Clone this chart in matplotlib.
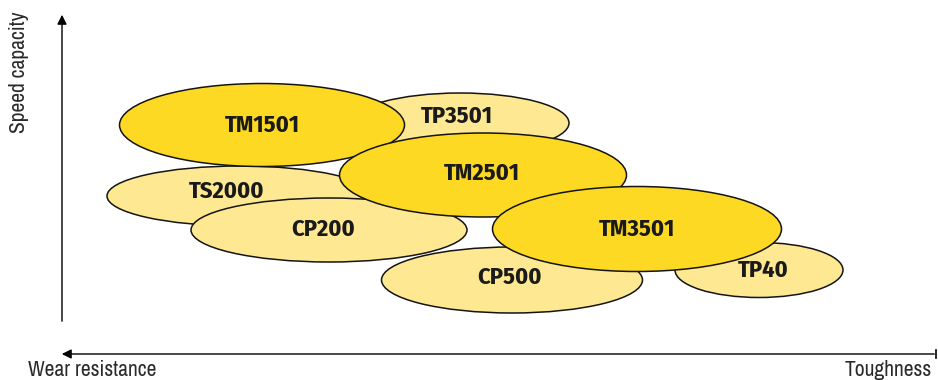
import matplotlib
matplotlib.use('Agg')
import matplotlib.pyplot as plt
from matplotlib.patches import Ellipse
from matplotlib import font_manager

# grade positions on the chart (x = toughness, y = speed, in chart units)
grades = ['TS2000', 'CP200', 'TP3501', 'TM1501', 'TM2501', 'CP500', 'TP40', 'TM3501']
centre_x = [240, 329, 460, 262, 483, 512, 759, 637]
centre_y = [196, 230, 123, 125, 175, 280, 270, 229]
spread_x = [266, 276, 218, 285, 287, 261, 168, 289]
spread_y = [60, 64, 60, 83, 84, 66, 55, 85]
label_x = [227, 323, 457, 262, 482, 510, 763, 637]
label_y = [191, 229, 116, 125, 173, 277, 270, 229]
is_main = [False, False, False, True, True, False, False, True]

dark = '#fdd923'
light = '#fee891'

# pick a condensed family that really has a bold face
bold_family = 'Liberation Sans'
for cand in ['Archivo Narrow', 'Fira Sans Condensed', 'Asap Condensed',
             'Roboto Condensed', 'IBM Plex Sans Condensed', 'Barlow Semi Condensed']:
    if any(f.name == cand and f.weight in (700, 'bold') for f in font_manager.fontManager.ttflist):
        bold_family = cand
        break

plt.rcParams['font.family'] = ['Archivo Narrow', 'Liberation Sans', 'DejaVu Sans']

fig = plt.figure(figsize=(9.38, 3.8), dpi=100)
ax = fig.add_axes([0, 0, 1, 1])
ax.set_xlim(0, 938)
ax.set_ylim(380, 0)
ax.axis('off')

for i in range(len(grades)):
    col = dark if is_main[i] else light
    e = Ellipse((centre_x[i], centre_y[i]), spread_x[i], spread_y[i],
                facecolor=col, edgecolor='#141414', lw=1.1, zorder=i + 2)
    ax.add_patch(e)
    ax.text(label_x[i], label_y[i], grades[i], ha='center', va='center',
            fontsize=17.5, fontweight='bold', family=[bold_family, 'Liberation Sans'],
            color='#1a1a1a', zorder=i + 2)

# axes arrows
ax.annotate('', xy=(62, 12), xytext=(62, 324),
            arrowprops=dict(arrowstyle='-|>', color='black', lw=1.0, mutation_scale=14))
ax.annotate('', xy=(59, 354), xytext=(937, 354),
            arrowprops=dict(arrowstyle='-|>', color='black', lw=1.0, mutation_scale=14))
ax.plot([936, 936], [350, 358], color='black', lw=1.2)

ax.text(19, 72, 'Speed capacity', rotation=90, ha='center', va='center',
        fontsize=15.5, color='#2a2a2a')
ax.text(28, 370, 'Wear resistance', ha='left', va='center', fontsize=15.5, color='#2a2a2a')
ax.text(932, 370, 'Toughness', ha='right', va='center', fontsize=15.5, color='#2a2a2a')

fig.savefig('out.png', dpi=100)
